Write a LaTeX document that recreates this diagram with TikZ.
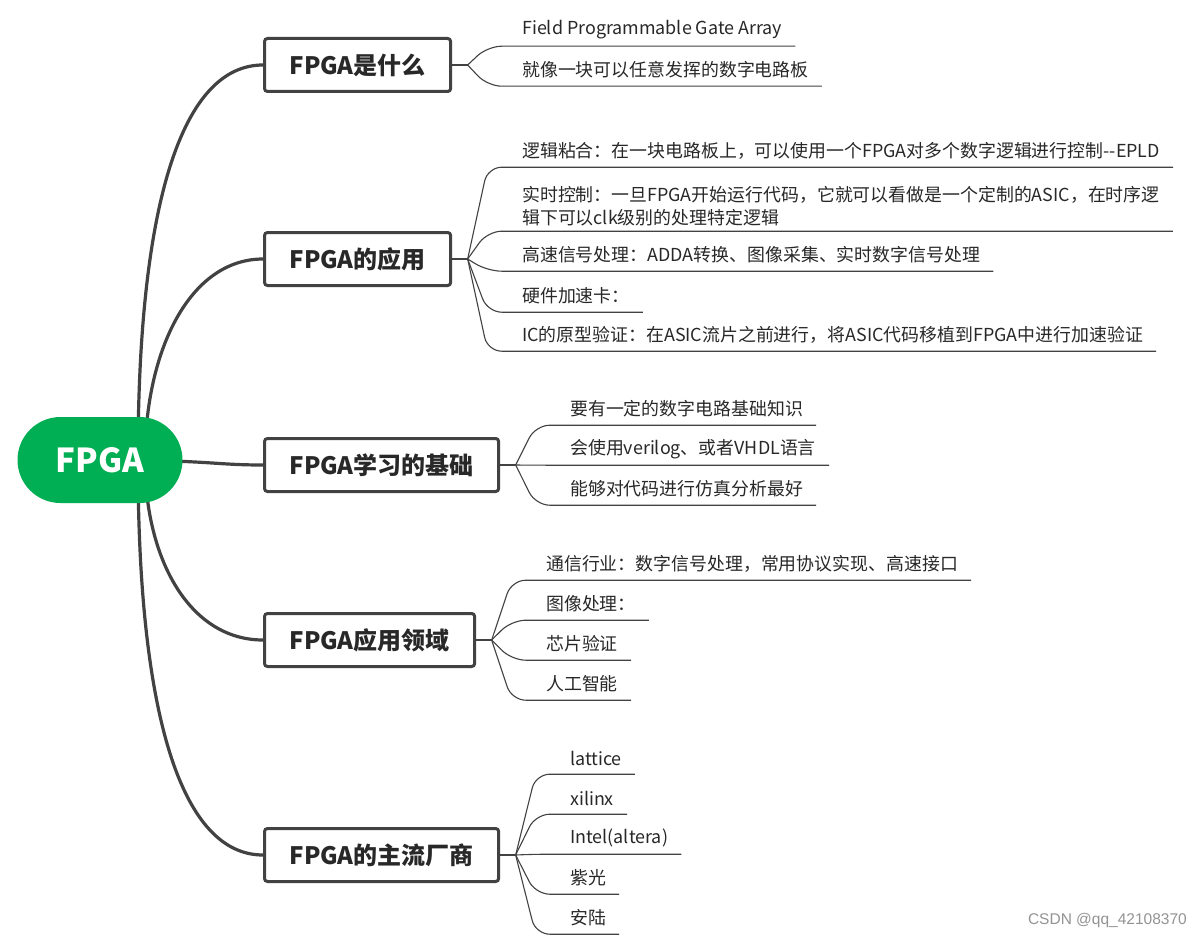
\documentclass[tikz,border=0pt]{standalone}
\usepackage{fontspec}
\newfontfamily\cjk{Noto Sans CJK SC}
\newfontfamily\marksans{Liberation Sans}
\usepackage{tikz}
\usetikzlibrary{backgrounds, calc}

\definecolor{mmgreen}{RGB}{0,174,84}
\definecolor{mmline}{RGB}{66,66,66}
\definecolor{mmtext}{RGB}{40,40,40}

\begin{document}
\begin{tikzpicture}[
      x=1pt, y=-1pt,
      root/.style={fill=mmgreen, rounded corners=43pt, minimum width=165pt, minimum height=86pt, inner sep=0pt, text=white, font=\cjk\fontsize{33}{36}\selectfont\bfseries},
      topic/.style={draw=mmline, line width=3pt, fill=white, rounded corners=3pt, anchor=west, minimum height=53pt, inner xsep=25pt, text=mmtext, font=\cjk\fontsize{24}{28}\selectfont\bfseries},
      leaf/.style={anchor=west, inner sep=0pt, minimum height=32pt, align=left, text=mmtext, font=\cjk\fontsize{17.9}{23}\selectfont},
      trunk/.style={draw=mmline, line width=3.2pt},
      twig/.style={draw=mmline, line width=1.1pt, rounded corners=14pt},
    ]
    \useasboundingbox (0,0) rectangle (1201,939);

    % centre and main topics
    \node[root] (fpga) at (100,460) {FPGA};
    \node[topic] (what) at (263,65) {FPGA是什么};
    \node[topic] (app) at (263,259) {FPGA的应用};
    \node[topic] (base) at (263,465) {FPGA学习的基础};
    \node[topic] (field) at (263,640) {FPGA应用领域};
    \node[topic] (vendor) at (263,855) {FPGA的主流厂商};

    % subtopics
    \node[leaf] (what1) at (522,30) {Field Programmable Gate Array};
    \node[leaf] (what2) at (522,70) {就像一块可以任意发挥的数字电路板};

    \node[leaf] (app1) at (522,151) {逻辑粘合：在一块电路板上，可以使用一个FPGA对多个数字逻辑进行控制--EPLD};
    \node[leaf, minimum height=49pt] (app2) at (522,206.5) {实时控制：一旦FPGA开始运行代码，它就可以看做是一个定制的ASIC，在时序逻\\辑下可以clk级别的处理特定逻辑};
    \node[leaf] (app3) at (522,255) {高速信号处理：ADDA转换、图像采集、实时数字信号处理};
    \node[leaf] (app4) at (522,296) {硬件加速卡：};
    \node[leaf] (app5) at (522,335) {IC的原型验证：在ASIC流片之前进行，将ASIC代码移植到FPGA中进行加速验证};

    \node[leaf] (base1) at (570,409) {要有一定的数字电路基础知识};
    \node[leaf] (base2) at (570,449) {会使用verilog、或者VHDL语言};
    \node[leaf] (base3) at (570,489) {能够对代码进行仿真分析最好};

    \node[leaf] (field1) at (546,564) {通信行业：数字信号处理，常用协议实现、高速接口};
    \node[leaf] (field2) at (546,604) {图像处理：};
    \node[leaf] (field3) at (546,644) {芯片验证};
    \node[leaf] (field4) at (546,684) {人工智能};

    \node[leaf] (vendor1) at (570,758) {lattice};
    \node[leaf] (vendor2) at (570,798) {xilinx};
    \node[leaf] (vendor3) at (570,838) {Intel(altera)};
    \node[leaf] (vendor4) at (570,878) {紫光};
    \node[leaf] (vendor5) at (570,918) {安陆};

    \node[anchor=east, inner sep=0pt, text=black!42, font=\marksans\fontsize{15.5}{17}\selectfont] (mark) at (1187,920) {CSDN @qq\_42108370};

    % fan points
    \coordinate (whatf) at ([xshift=15.5pt]what.east);
    \coordinate (appf) at ([xshift=15.5pt]app.east);
    \coordinate (basef) at ([xshift=15.5pt]base.east);
    \coordinate (fieldf) at ([xshift=15.5pt]field.east);
    \coordinate (vendorf) at ([xshift=15.5pt]vendor.east);

    % branches from the centre
    \begin{scope}[on background layer]
      \fill[white] (0,0) rectangle (1201,939);
      \draw[trunk] ([xshift=38pt]fpga.center) .. controls +(0,-260) and +(-80,0) .. (what.west);
      \draw[trunk] ([xshift=45pt]fpga.center) .. controls +(0,-110) and +(-73,0) .. (app.west);
      \draw[trunk] (fpga.center) .. controls +(110,0) and +(-50,0) .. (base.west);
      \draw[trunk] ([xshift=45pt]fpga.center) .. controls +(0,100) and +(-73,0) .. (field.west);
      \draw[trunk] ([xshift=38pt]fpga.center) .. controls +(0,260) and +(-80,0) .. (vendor.west);
    \end{scope}

    % branches to subtopics
    \draw[twig] (what.east) -- (whatf);
    \draw[twig] (whatf) -- ([xshift=20pt]whatf |- what1.south) -- ([xshift=13pt]what1.south east);
    \draw[twig] (whatf) -- ([xshift=20pt]whatf |- what2.south) -- ([xshift=13pt]what2.south east);

    \draw[twig] (app.east) -- (appf);
    \draw[twig] (appf) -- ([xshift=20pt]appf |- app1.south) -- ([xshift=13pt]app1.south east);
    \draw[twig] (appf) -- ([xshift=20pt]appf |- app2.south) -- ([xshift=13pt]app2.south east);
    \draw[twig] (appf) -- ([xshift=20pt]appf |- app3.south) -- ([xshift=13pt]app3.south east);
    \draw[twig] (appf) -- ([xshift=20pt]appf |- app4.south) -- ([xshift=13pt]app4.south east);
    \draw[twig] (appf) -- ([xshift=20pt]appf |- app5.south) -- ([xshift=13pt]app5.south east);

    \draw[twig] (base.east) -- (basef);
    \draw[twig] (basef) -- ([xshift=20pt]basef |- base1.south) -- ([xshift=13pt]base1.south east);
    \draw[twig] (basef) -- ([xshift=20pt]basef |- base2.south) -- ([xshift=13pt]base2.south east);
    \draw[twig] (basef) -- ([xshift=20pt]basef |- base3.south) -- ([xshift=13pt]base3.south east);

    \draw[twig] (field.east) -- (fieldf);
    \draw[twig] (fieldf) -- ([xshift=20pt]fieldf |- field1.south) -- ([xshift=13pt]field1.south east);
    \draw[twig] (fieldf) -- ([xshift=20pt]fieldf |- field2.south) -- ([xshift=13pt]field2.south east);
    \draw[twig] (fieldf) -- ([xshift=20pt]fieldf |- field3.south) -- ([xshift=13pt]field3.south east);
    \draw[twig] (fieldf) -- ([xshift=20pt]fieldf |- field4.south) -- ([xshift=13pt]field4.south east);

    \draw[twig] (vendor.east) -- (vendorf);
    \draw[twig] (vendorf) -- ([xshift=20pt]vendorf |- vendor1.south) -- ([xshift=13pt]vendor1.south east);
    \draw[twig] (vendorf) -- ([xshift=20pt]vendorf |- vendor2.south) -- ([xshift=13pt]vendor2.south east);
    \draw[twig] (vendorf) -- ([xshift=20pt]vendorf |- vendor3.south) -- ([xshift=13pt]vendor3.south east);
    \draw[twig] (vendorf) -- ([xshift=20pt]vendorf |- vendor4.south) -- ([xshift=13pt]vendor4.south east);
    \draw[twig] (vendorf) -- ([xshift=20pt]vendorf |- vendor5.south) -- ([xshift=13pt]vendor5.south east);
\end{tikzpicture}
\end{document}
